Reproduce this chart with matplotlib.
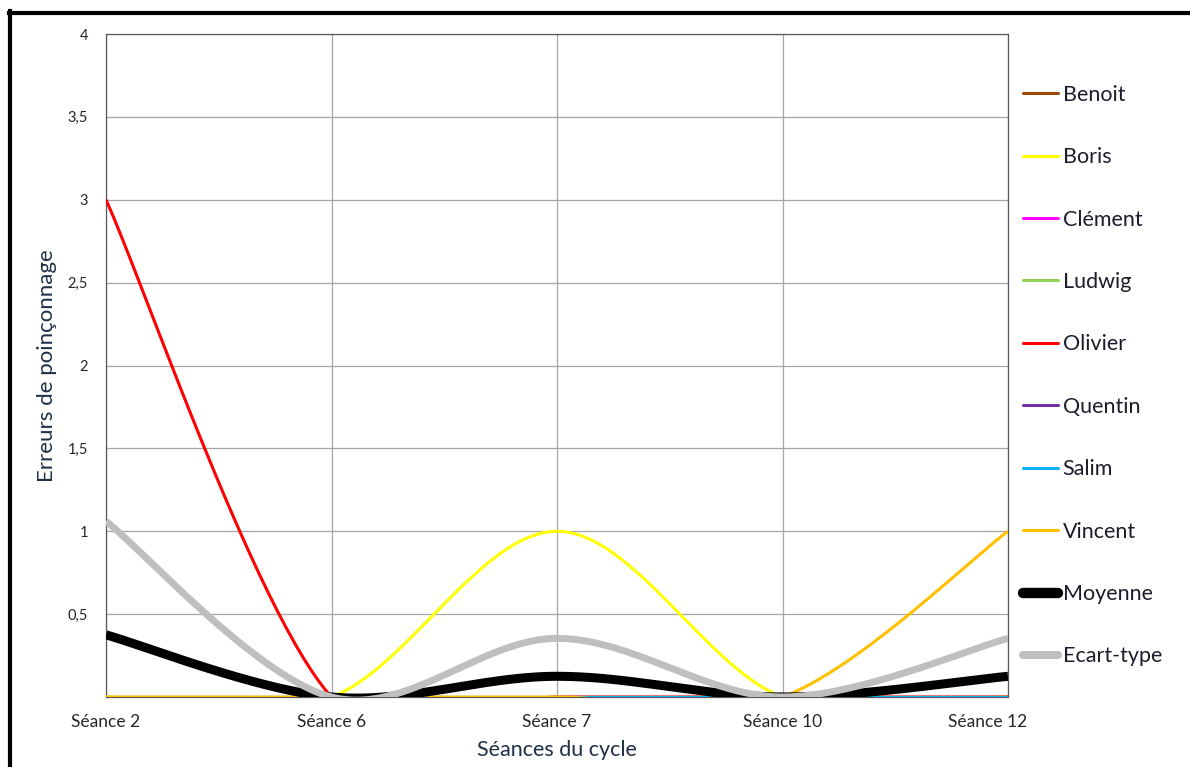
import numpy as np
import matplotlib
matplotlib.use("Agg")
import matplotlib.pyplot as plt
from matplotlib.lines import Line2D
from matplotlib.transforms import ScaledTranslation

plt.rcParams['font.family'] = ['Lato', 'DejaVu Sans']

# ---- data -------------------------------------------------------------
seances = ["Séance 2", "Séance 6", "Séance 7", "Séance 10", "Séance 12"]

benoit = [0, 0, 0, 0, 0]
boris = [0, 0, 1, 0, 0]
clement = [0, 0, 0, 0, 0]
ludwig = [0, 0, 0, 0, 0]
olivier = [3, 0, 0, 0, 0]
quentin = [0, 0, 0, 0, 0]
salim = [0, 0, 0, 0, 0]
vincent = [0, 0, 0, 0, 1]
moyenne = [0.375, 0, 0.125, 0, 0.125]
ecart_type = [1.0607, 0, 0.3536, 0, 0.3536]

y_ticks = [0.5, 1, 1.5, 2, 2.5, 3, 3.5, 4]
y_tick_labels = ["0,5", "1", "1,5", "2", "2,5", "3", "3,5", "4"]

series = [
    ("Benoit", benoit, "#9C4A0A", 2.2),
    ("Boris", boris, "#FFFF00", 2.2),
    ("Clément", clement, "#FF00FF", 2.2),
    ("Ludwig", ludwig, "#92D050", 2.2),
    ("Olivier", olivier, "#FF0000", 2.2),
    ("Quentin", quentin, "#7030A0", 2.2),
    ("Salim", salim, "#00B0F0", 2.2),
    ("Vincent", vincent, "#FFC000", 2.2),
    ("Moyenne", moyenne, "#000000", 6.5),
    ("Ecart-type", ecart_type, "#BFBFBF", 5.0),
]


def smooth(values, n=60):
    """Spreadsheet-style smoothed line: cubic Bezier through each point."""
    p = np.asarray(values, dtype=float)
    x = np.arange(len(p), dtype=float)
    pts = np.column_stack([x, p])
    ext = np.vstack([pts[0], pts, pts[-1]])
    t = np.linspace(0, 1, n)[:, None]
    out = []
    for i in range(len(pts) - 1):
        p0, p1 = ext[i + 1], ext[i + 2]
        c1 = p0 + (ext[i + 2] - ext[i]) / 6.0
        c2 = p1 - (ext[i + 3] - ext[i + 1]) / 6.0
        seg = ((1 - t) ** 3) * p0 + 3 * ((1 - t) ** 2) * t * c1 \
            + 3 * (1 - t) * t ** 2 * c2 + t ** 3 * p1
        out.append(seg if i == 0 else seg[1:])
    out = np.vstack(out)
    return out[:, 0], out[:, 1]


W, H = 1190, 767
fig = plt.figure(figsize=(W / 100, H / 100), dpi=100)
ax = fig.add_axes([106 / W, 1 - 697 / H, (1008 - 106) / W, (697 - 34) / H])

handles = []
for name, vals, color, lw in series:
    xs, ys = smooth(vals)
    ax.plot(xs, ys, color=color, lw=lw, solid_capstyle='butt',
            solid_joinstyle='round', zorder=3)
    handles.append(Line2D([0], [0], color=color,
                          lw=lw if lw < 3 else lw * 1.15,
                          solid_capstyle='round'))

ax.set_xlim(0, len(seances) - 1)
ax.set_ylim(0, 4)
ax.set_xticks(range(len(seances)))
ax.set_xticklabels(seances, fontsize=12.5, color='#262626')
ax.set_yticks(y_ticks)
ax.set_yticklabels(y_tick_labels, fontsize=10.5, color='#262626')
ax.tick_params(axis='both', length=0)
ax.tick_params(axis='y', pad=13)
ax.tick_params(axis='x', pad=12.5)

# last category label is nudged left, away from the legend
lbl = ax.get_xticklabels()[-1]
lbl.set_transform(lbl.get_transform() + ScaledTranslation(-20 / 100, 0, fig.dpi_scale_trans))

ax.grid(True, color='#A6A6A6', lw=0.9, zorder=1)
ax.set_axisbelow(True)
for side in ('left', 'top', 'right', 'bottom'):
    ax.spines[side].set_color('#595959')
    ax.spines[side].set_linewidth(0.9)

ax.set_xlabel("Séances du cycle", fontsize=15.5, color='#1F2F45', labelpad=7)
ax.set_ylabel("Erreurs de poinçonnage", fontsize=16, color='#1F2F45', labelpad=7.5)

fig.legend(handles, [s[0] for s in series], loc='upper left',
           bbox_to_anchor=(1012 / W, 1 - 74 / H), frameon=False,
           fontsize=15.5, handlelength=1.65, handletextpad=0.2,
           labelspacing=1.97, labelcolor='#1C1C2C', borderpad=0)

# outer frame of the chart
fig.add_artist(Line2D([10 / W, 10 / W], [1 - 11 / H, -0.05], color='black',
                      lw=3.0, transform=fig.transFigure))
fig.add_artist(Line2D([8.5 / W, 1.05], [1 - 12.5 / H, 1 - 12.5 / H], color='black',
                      lw=3.0, transform=fig.transFigure))

fig.savefig("out.png", dpi=100)
